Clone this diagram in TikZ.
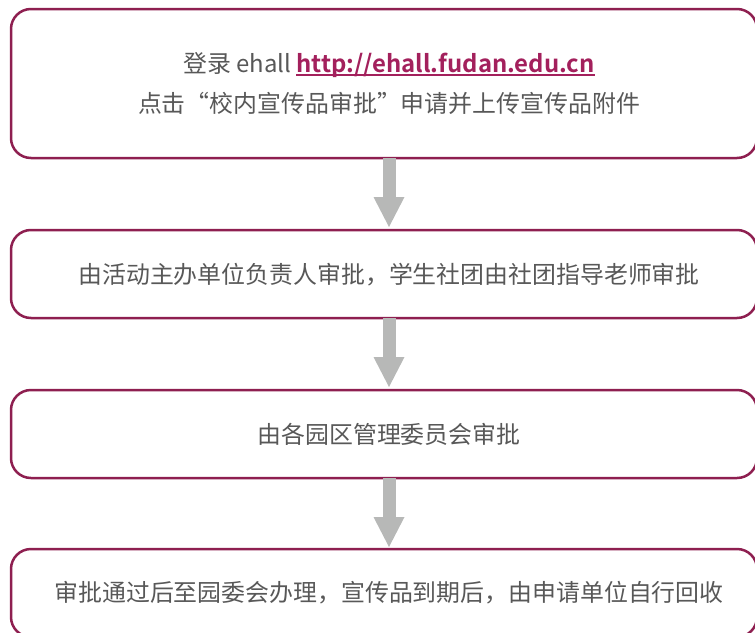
\documentclass[tikz,border=0pt]{standalone}
\usepackage{fontspec}
\setmainfont{Noto Sans CJK SC}[BoldFont={Noto Sans CJK SC Bold}]
\usetikzlibrary{arrows.meta}
\definecolor{boxborder}{HTML}{8E1F50}
\definecolor{linkcol}{HTML}{A3205C}
\definecolor{txtcol}{HTML}{585858}
\definecolor{arrowgray}{HTML}{B7B8B7}
\newcommand{\myul}[1]{\setbox0\hbox{#1}\rlap{\rule[-3.6pt]{\wd0}{1.4pt}}\box0}
\tikzset{
  stepbox/.style={draw=boxborder, line width=2.5pt, rounded corners=20pt, minimum width=746pt, inner sep=0pt},
  label/.style={anchor=base, text=txtcol, font=\fontsize{23.9pt}{28pt}\selectfont, inner sep=0pt},
  flowarrow/.style={draw=arrowgray, line width=13pt, -{Triangle[width=31pt,length=30pt,line width=0pt]}}
}
\begin{document}
\begin{tikzpicture}[x=1pt,y=-1pt]
\useasboundingbox (0,0) rectangle (755,632);
\clip (0,0) rectangle (755,632);
\node[stepbox, minimum height=149pt] (b1) at (384,83.5) {};
\node[stepbox, minimum height=88pt] (b2) at (384,274) {};
\node[stepbox, minimum height=88pt] (b3) at (384,434) {};
\node[stepbox, minimum height=88pt] (b4) at (384,593) {};

\node[label] (t1a) at (389,72) {登录 ehall \textcolor{linkcol}{\myul{\textbf{http://ehall.fudan.edu.cn}}}};
\node[label] (t1b) at (389,112) {点击“校内宣传品审批”申请并上传宣传品附件};
\node[label] (t2) at (389,283) {由活动主办单位负责人审批，学生社团由社团指导老师审批};
\node[label] (t3) at (389,443) {由各园区管理委员会审批};
\node[label] (t4) at (389,601.5) {审批通过后至园委会办理，宣传品到期后，由申请单位自行回收};

\coordinate (a1s) at (389,158);
\coordinate (a1e) at (389,227);
\coordinate (a2s) at (389,318);
\coordinate (a2e) at (389,387);
\coordinate (a3s) at (389,478);
\coordinate (a3e) at (389,547);
\draw[flowarrow] (a1s) -- (a1e);
\draw[flowarrow] (a2s) -- (a2e);
\draw[flowarrow] (a3s) -- (a3e);
\end{tikzpicture}
\end{document}
